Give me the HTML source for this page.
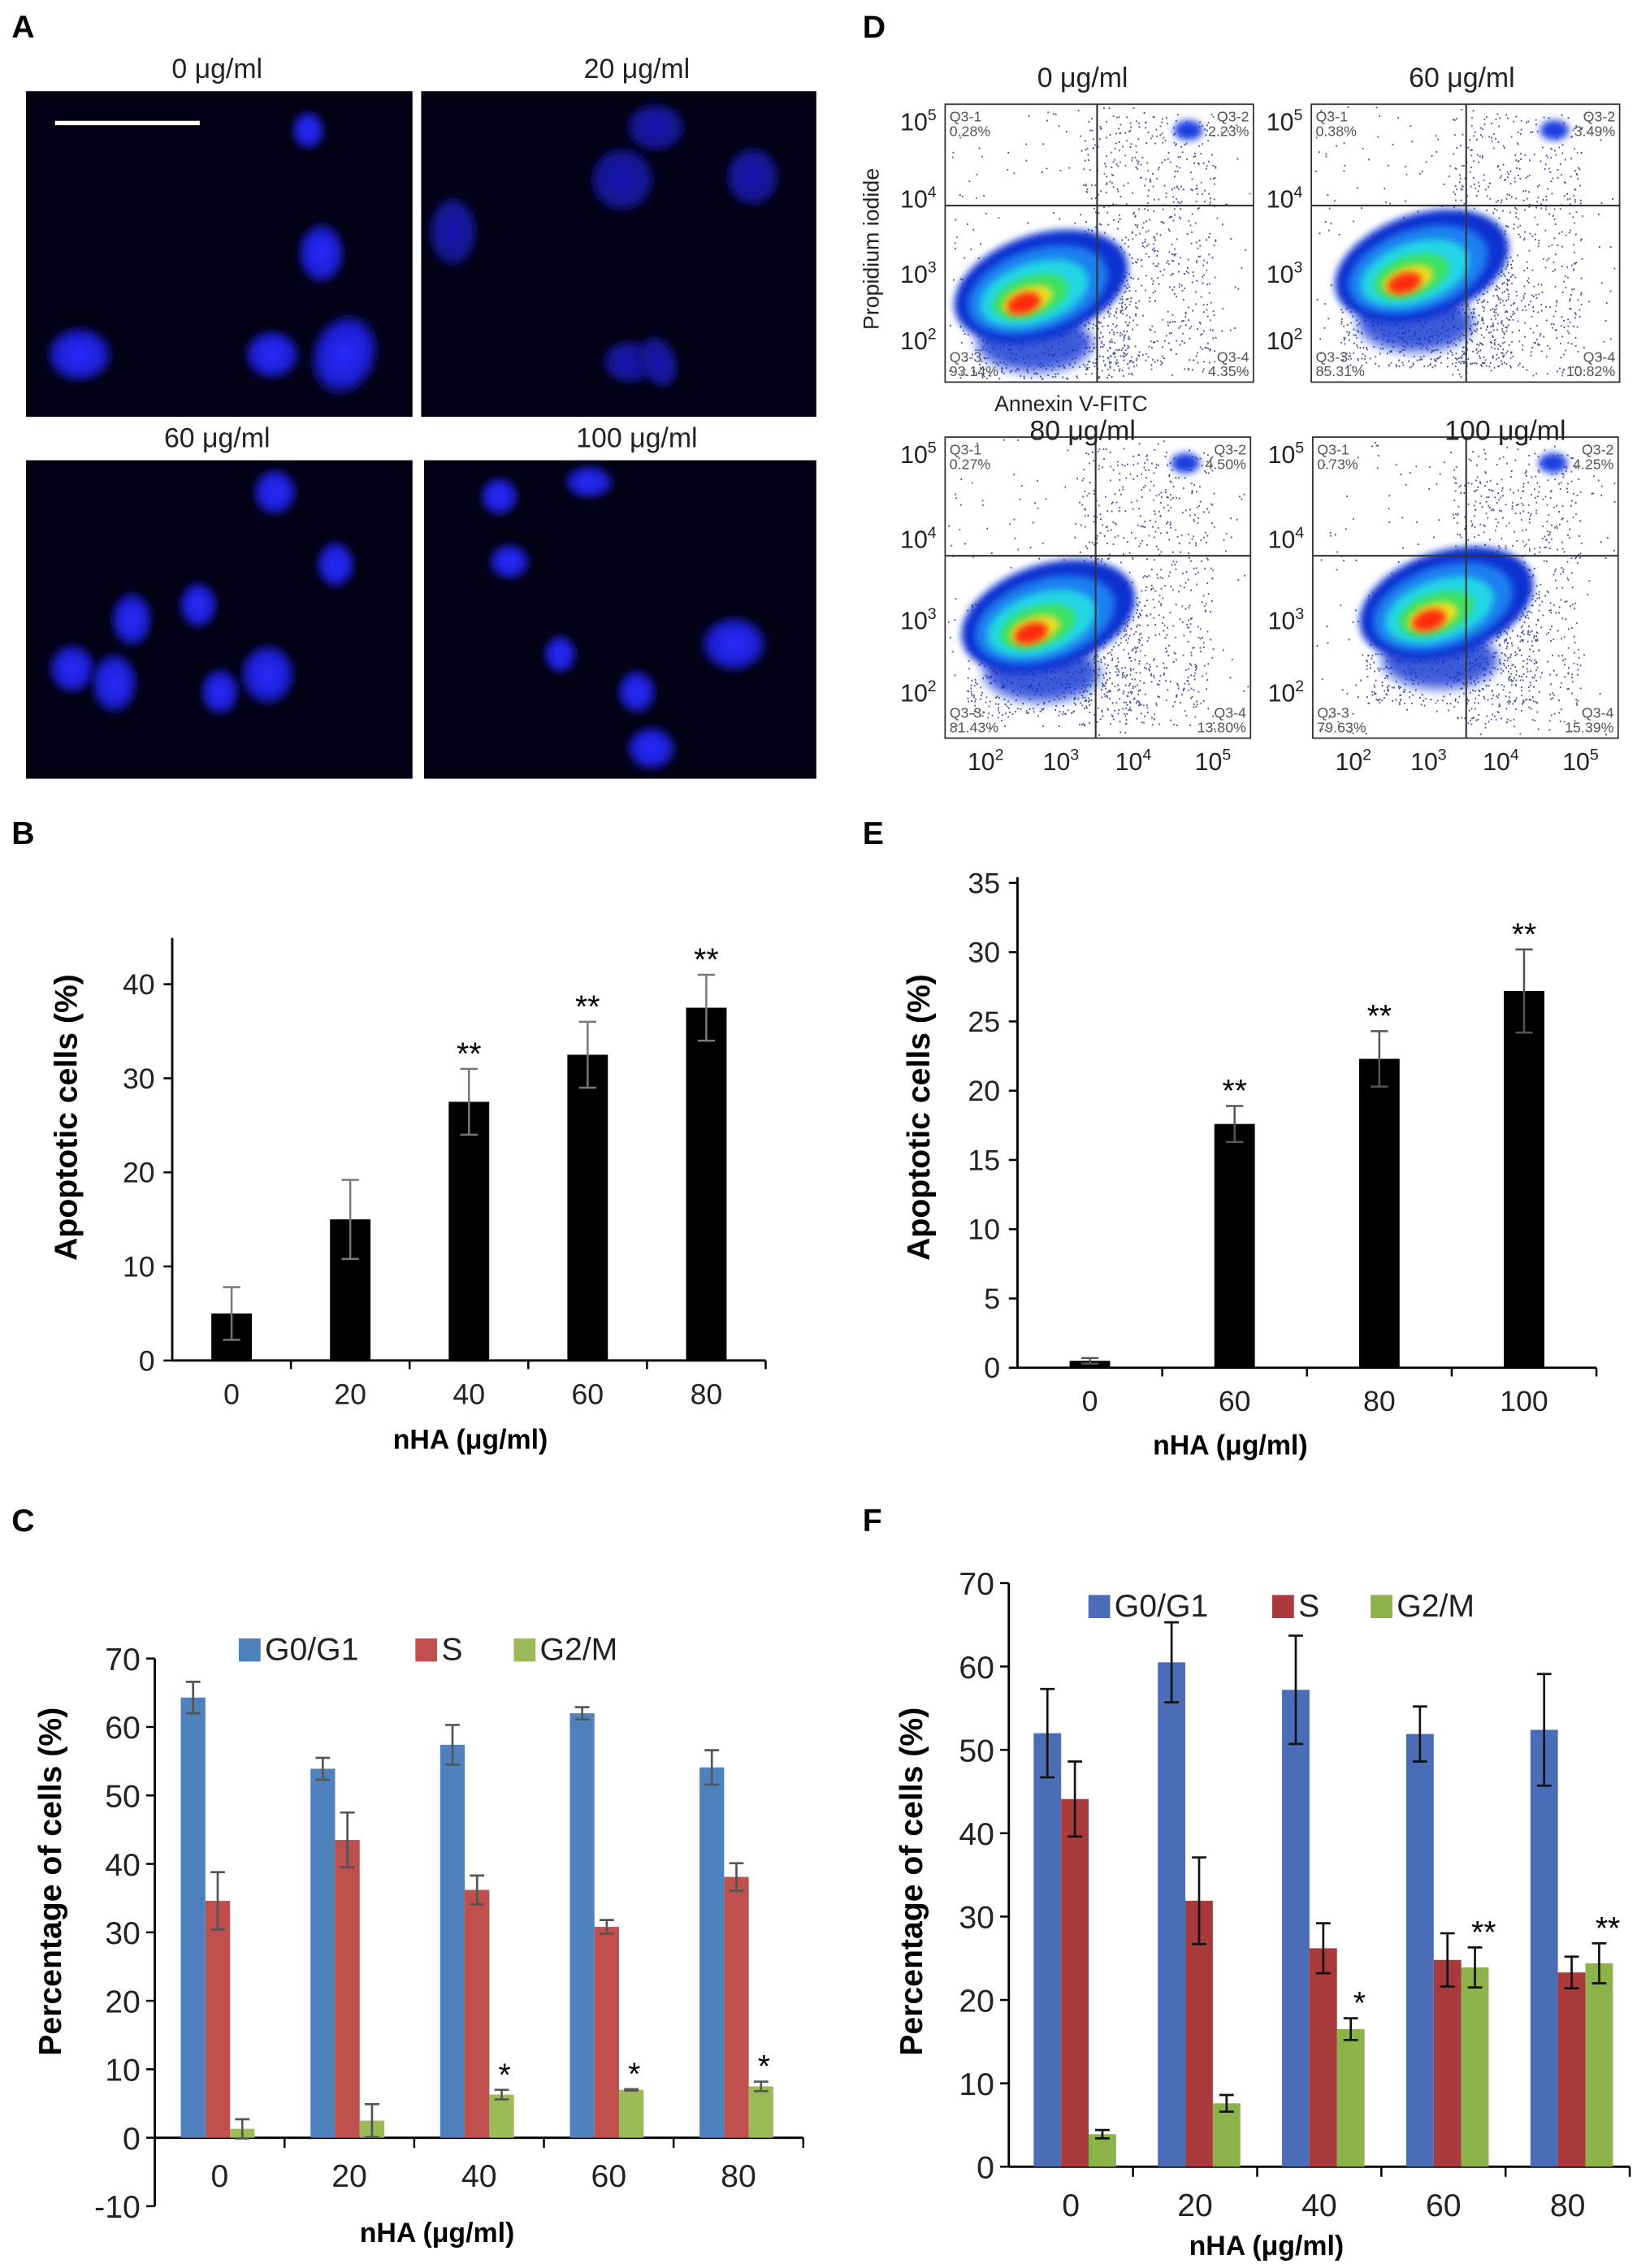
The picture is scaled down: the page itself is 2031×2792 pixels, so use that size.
<!DOCTYPE html>
<html><head><meta charset="utf-8"><style>
html,body{margin:0;padding:0;background:#fff;}
svg{display:block;}
text{font-family:"Liberation Sans",Arial,sans-serif;}
</style></head><body>
<svg id="fig" xmlns="http://www.w3.org/2000/svg" width="2031" height="2792" viewBox="0 0 1140 1567" preserveAspectRatio="none">
<defs>
<filter id="blur2" x="-50%" y="-50%" width="200%" height="200%"><feGaussianBlur stdDeviation="2.5"/></filter>
<filter id="blur4" x="-50%" y="-50%" width="200%" height="200%"><feGaussianBlur stdDeviation="4"/></filter>
<radialGradient id="nuc" cx="50%" cy="50%" r="50%"><stop offset="0" stop-color="#2a2cff"/><stop offset="0.7" stop-color="#1c1ed0"/><stop offset="1" stop-color="#0a0a60" stop-opacity="0.3"/></radialGradient>
<radialGradient id="nucdim" cx="50%" cy="50%" r="50%"><stop offset="0" stop-color="#1a1ab8"/><stop offset="0.75" stop-color="#12128a"/><stop offset="1" stop-color="#070740" stop-opacity="0.2"/></radialGradient>
</defs>
<rect x="0" y="0" width="1140" height="1567" fill="#fff"/>

<text x="8" y="26" font-size="22" font-weight="bold">A</text>
<text x="596" y="26" font-size="22" font-weight="bold">D</text>
<text x="8" y="583" font-size="22" font-weight="bold">B</text>
<text x="596" y="583" font-size="22" font-weight="bold">E</text>
<text x="8" y="1058" font-size="22" font-weight="bold">C</text>
<text x="596" y="1058" font-size="22" font-weight="bold">F</text>

<g id="panelA"></g>
<g id="panelD"></g>
<g id="panelB"></g>
<g id="panelE"></g>
<g id="panelC"></g>
<g id="panelF"></g>
</svg>
<script>
// ===== Chart B data =====
const bCategories = ["0","20","40","60","80"];
const bValues = [5.0, 15.0, 27.5, 32.5, 37.5];
const bErrors = [2.8, 4.2, 3.5, 3.5, 3.5];
const bStars = ["", "", "**", "**", "**"];
const bTicks = [0,10,20,30,40];
// ===== Chart E data =====
const eCategories = ["0","60","80","100"];
const eValues = [0.5, 17.6, 22.3, 27.2];
const eErrors = [0.2, 1.3, 2.0, 3.0];
const eStars = ["", "**", "**", "**"];
const eTicks = [0,5,10,15,20,25,30,35];
// ===== Chart C data =====
const cCategories = ["0","20","40","60","80"];
const cG1 = [64.3, 53.9, 57.4, 62.0, 54.1];
const cG1Err = [2.3, 1.6, 2.9, 0.9, 2.5];
const cS = [34.6, 43.5, 36.2, 30.8, 38.1];
const cSErr = [4.2, 4.0, 2.1, 1.0, 2.0];
const cG2 = [1.3, 2.5, 6.3, 7.0, 7.5];
const cG2Err = [1.4, 2.4, 0.7, 0.1, 0.7];
const cStars = ["", "", "*", "*", "*"];
const cTicks = [-10,0,10,20,30,40,50,60,70];
// ===== Chart F data =====
const fCategories = ["0","20","40","60","80"];
const fG1 = [52.0, 60.5, 57.2, 51.9, 52.4];
const fG1Err = [5.3, 4.8, 6.5, 3.3, 6.7];
const fS = [44.1, 31.9, 26.2, 24.8, 23.3];
const fSErr = [4.5, 5.2, 3.0, 3.2, 1.9];
const fG2 = [3.9, 7.6, 16.5, 23.9, 24.4];
const fG2Err = [0.5, 1.0, 1.3, 2.4, 2.4];
const fStars = ["", "", "*", "**", "**"];
const fTicks = [0,10,20,30,40,50,60,70];
const seriesNames = ["G0/G1","S","G2/M"];

const NS = "http://www.w3.org/2000/svg";
function mk(parent, tag, attrs, txt){
  const e = document.createElementNS(NS, tag);
  for (const k in attrs) e.setAttribute(k, attrs[k]);
  if (txt !== undefined) e.textContent = txt;
  parent.appendChild(e);
  return e;
}

function simpleBar(g, cfg, cats, vals, errs, stars, ticks){
  const y = v => cfg.y0 - (v - 0) * cfg.pxPerUnit;
  const band = (cfg.xEnd - cfg.xStart) / cats.length;
  const cx = i => cfg.xStart + band * (i + 0.5);
  let e = mk(g,'line',{x1:cfg.xStart,y1:cfg.yTop,x2:cfg.xStart,y2:cfg.y0,stroke:'#000','stroke-width':1.6});
   
  e = mk(g,'line',{x1:cfg.xStart,y1:cfg.y0,x2:cfg.xEnd,y2:cfg.y0,stroke:'#000','stroke-width':1.6});
   
  ticks.forEach(t=>{
    const ty = y(t);
    let l = mk(g,'line',{x1:cfg.xStart-6,y1:ty,x2:cfg.xStart,y2:ty,stroke:'#000','stroke-width':1.4});
     
    let tx = mk(g,'text',{x:cfg.xStart-12,y:ty+7,'font-size':20,'text-anchor':'end',fill:'#222'},String(t));
     
  });
  for (let i=1;i<=cats.length;i++){
    const tx = cfg.xStart + band*i;
    let l = mk(g,'line',{x1:tx,y1:cfg.y0,x2:tx,y2:cfg.y0+6,stroke:'#000','stroke-width':1.4});
     
  }
  cats.forEach((c,i)=>{
    const x = cx(i);
    let r = mk(g,'rect',{x:x-cfg.bw/2,y:y(vals[i]),width:cfg.bw,height:y(0)-y(vals[i]),fill:'#000'});
     
    const top = y(vals[i]+errs[i]), bot = y(vals[i]-errs[i]);
    let eb = mk(g,'path',{d:`M${x},${top}V${bot}M${x-6},${top}H${x+6}M${x-6},${bot}H${x+6}`,stroke:cfg.errColor,'stroke-width':1.4,fill:'none'});
     
    let lt = mk(g,'text',{x:x,y:cfg.y0+30,'font-size':20,'text-anchor':'middle',fill:'#222'},c);
     
    if (stars[i]){
      let s = mk(g,'text',{x:x,y:top-3,'font-size':22,'text-anchor':'middle',fill:'#000'},stars[i]);
       
    }
  });
  let yt = mk(g,'text',{x:0,y:0,'font-size':22,'font-weight':'bold','text-anchor':'middle',transform:`translate(${cfg.yTitleX},${cfg.yTitleY}) rotate(-90)`},'Apoptotic cells (%)');
   
  let xt = mk(g,'text',{x:cfg.xTitleX,y:cfg.xTitleY,'font-size':19,'font-weight':'bold','text-anchor':'middle'},'nHA (μg/ml)');
   
}

simpleBar(document.getElementById('panelB'),
  {xStart:119,xEnd:529,y0:940,yTop:648,pxPerUnit:6.5,bw:28,errColor:'#777',yTitleX:53,yTitleY:772,xTitleX:325,xTitleY:1001},
  bCategories,bValues,bErrors,bStars,bTicks);
simpleBar(document.getElementById('panelE'),
  {xStart:703,xEnd:1103,y0:945,yTop:606,pxPerUnit:9.571,bw:28,errColor:'#555',yTitleX:642,yTitleY:772,xTitleX:850,xTitleY:1005},
  eCategories,eValues,eErrors,eStars,eTicks);

function groupBar(g, cfg, cats, series, errsArr, stars, ticks){
  const y = v => cfg.y0 - v * cfg.pxPerUnit;
  const band = (cfg.xEnd - cfg.xStart) / cats.length;
  let e = mk(g,'line',{x1:cfg.xStart,y1:y(ticks[ticks.length-1]),x2:cfg.xStart,y2:y(ticks[0]),stroke:'#000','stroke-width':1.6});
   
  e = mk(g,'line',{x1:cfg.xStart,y1:cfg.y0,x2:cfg.xEnd,y2:cfg.y0,stroke:'#000','stroke-width':1.6});
   
  ticks.forEach(t=>{
    const ty = y(t);
    let l = mk(g,'line',{x1:cfg.xStart-6,y1:ty,x2:cfg.xStart,y2:ty,stroke:'#000','stroke-width':1.4});
     
    let tx = mk(g,'text',{x:cfg.xStart-10,y:ty+8,'font-size':22,'text-anchor':'end',fill:'#222'},String(t));
     
  });
  for (let i=1;i<=cats.length;i++){
    const tx = cfg.xStart + band*i;
    let l = mk(g,'line',{x1:tx,y1:cfg.y0,x2:tx,y2:cfg.y0+7,stroke:'#000','stroke-width':1.4});
     
  }
  cats.forEach((c,i)=>{
    const gx = cfg.xStart + band*i + band*0.2;
    series.forEach((vals,s)=>{
      const x = gx + s*cfg.bw;
      let r = mk(g,'rect',{x:x,y:Math.min(y(vals[i]),y(0)),width:cfg.bw,height:Math.abs(y(0)-y(vals[i])),fill:cfg.colors[s]});
       
      const m = x + cfg.bw/2;
      const top = y(vals[i]+errsArr[s][i]), bot = y(vals[i]-errsArr[s][i]);
      let eb = mk(g,'path',{d:`M${m},${top}V${bot}M${m-5},${top}H${m+5}M${m-5},${bot}H${m+5}`,stroke:cfg.errColor,'stroke-width':1.5,fill:'none'});
       
      if (s===2 && stars[i]){
        let st = mk(g,'text',{x:m+cfg.starDx,y:top-3,'font-size':22,'text-anchor':'middle'},stars[i]);
         
      }
    });
    let lt = mk(g,'text',{x:cfg.xStart + band*(i+0.5),y:cfg.y0+34,'font-size':22,'text-anchor':'middle',fill:'#222'},c);
     
  });
  const lx = cfg.legendX, ly = cfg.legendY;
  const offs = [0, cfg.legendGap1, cfg.legendGap2];
  seriesNames.forEach((n,s)=>{
    let sw = mk(g,'rect',{x:lx+offs[s],y:ly-15,width:15,height:16,fill:cfg.colors[s]});
     
    let t = mk(g,'text',{x:lx+offs[s]+18,y:ly,'font-size':22,fill:'#222'},n);
     
  });
  let yt = mk(g,'text',{x:0,y:0,'font-size':22,'font-weight':'bold','text-anchor':'middle',transform:`translate(${cfg.yTitleX},${cfg.yTitleY}) rotate(-90)`},'Percentage of cells (%)');
   
  let xt = mk(g,'text',{x:cfg.xTitleX,y:cfg.xTitleY,'font-size':19,'font-weight':'bold','text-anchor':'middle'},'nHA (μg/ml)');
   
}

groupBar(document.getElementById('panelC'),
  {xStart:107,xEnd:555,y0:1477,pxPerUnit:4.73,bw:17,colors:['#4f81bd','#c0504d','#9bbb59'],errColor:'#555',starDx:2,
   legendX:165,legendY:1147,legendGap1:122,legendGap2:190,yTitleX:42,yTitleY:1300,xTitleX:302,xTitleY:1549},
  cCategories,[cG1,cS,cG2],[cG1Err,cSErr,cG2Err],cStars,cTicks);
groupBar(document.getElementById('panelF'),
  {xStart:697,xEnd:1126,y0:1497,pxPerUnit:5.76,bw:19,colors:['#4a6db5','#a83a3b','#8cb34a'],errColor:'#111',starDx:6,
   legendX:752,legendY:1117,legendGap1:127,legendGap2:195,yTitleX:637,yTitleY:1300,xTitleX:875,xTitleY:1558},
  fCategories,[fG1,fS,fG2],[fG1Err,fSErr,fG2Err],fStars,fTicks);

(function(){
  const g = document.getElementById('panelA');
  const imgs = [
    {x:18,y:63,w:267,h:225,title:'0 μg/ml',tx:150,ty:54,nuc:[[213,90,12,14,0],[222,175,17,22,0],[188,245,20,18,0],[238,245,24,30,20],[55,245,24,20,0]],dim:false},
    {x:291,y:63,w:273,h:225,title:'20 μg/ml',tx:440,ty:54,nuc:[[453,88,22,18,0],[430,124,24,24,0],[520,122,20,22,0],[313,160,18,26,0],[435,250,20,16,0],[455,250,14,20,-20]],dim:true},
    {x:18,y:318,w:267,h:220,title:'60 μg/ml',tx:150,ty:309,nuc:[[190,340,16,17,0],[232,390,14,17,0],[137,418,14,17,0],[91,428,15,20,0],[50,462,17,18,0],[79,472,17,22,0],[185,466,20,22,0],[152,478,14,17,0]],dim:false},
    {x:293,y:318,w:271,h:220,title:'100 μg/ml',tx:440,ty:309,nuc:[[345,343,14,14,0],[407,333,18,12,0],[352,388,15,13,0],[387,452,12,14,0],[440,478,14,16,0],[507,445,24,20,0],[450,517,18,16,0]],dim:false}
  ];
  imgs.forEach((im,k)=>{
    let r = mk(g,'rect',{x:im.x,y:im.y,width:im.w,height:im.h,fill:'#020214'});
     
    im.nuc.forEach(n=>{
      let e = mk(g,'ellipse',{cx:n[0],cy:n[1],rx:n[2],ry:n[3],fill:im.dim?'url(#nucdim)':'url(#nuc)',filter:'url(#blur2)',transform:`rotate(${n[4]} ${n[0]} ${n[1]})`});
       
    });
    let t = mk(g,'text',{x:im.tx,y:im.ty,'font-size':19,'text-anchor':'middle',fill:'#222'},im.title);
     
  });
  let sb = mk(g,'line',{x1:38,y1:85,x2:138,y2:85,stroke:'#fff','stroke-width':3});
   
})();

(function(){
  const g = document.getElementById('panelD');
  let seed = 12345;
  const rnd = () => { seed = (seed*1103515245 + 12345) % 2147483648; return seed/2147483648; };
  const plots = [
    {x:653,y:72,w:213,h:192,vx:758,hy:142,bx:705,by:212,title:'0 μg/ml',tx:748,ty:60,p:['0.28%','2.23%','93.14%','4.35%']},
    {x:906,y:72,w:213,h:192,vx:1013,hy:142,bx:968,by:198,title:'60 μg/ml',tx:1010,ty:60,p:['0.38%','3.49%','85.31%','10.82%']},
    {x:653,y:302,w:211,h:208,vx:757,hy:384,bx:710,by:440,title:'80 μg/ml',tx:748,ty:304,p:['0.27%','4.50%','81.43%','13.80%']},
    {x:907,y:302,w:211,h:208,vx:1013,hy:384,bx:985,by:431,title:'100 μg/ml',tx:1040,ty:304,p:['0.73%','4.25%','79.63%','15.39%']}
  ];
  plots.forEach((p,k)=>{
    let bg = mk(g,'rect',{x:p.x,y:p.y,width:p.w,height:p.h,fill:'#fff',stroke:'#333','stroke-width':1});
     
    let d = '';
    for (let i=0;i<1500;i++){
      let px, py;
      const r = rnd();
      if (r < 0.45){ px = p.bx + (rnd()-0.35)*120; py = p.by + (rnd()-0.3)*80; }
      else if (r < 0.85){ px = p.vx - 10 + rnd()*(p.x+p.w-p.vx)*0.85; py = p.y + 8 + rnd()*(p.h-16); }
      else { px = p.x + rnd()*p.w; py = p.y + rnd()*p.h; }
      if (px<p.x+2||px>p.x+p.w-2||py<p.y+2||py>p.y+p.h-2) continue;
      d += `M${px.toFixed(1)},${py.toFixed(1)}h1`;
    }
    let dots = mk(g,'path',{d:d,stroke:'#1a2a80','stroke-width':1.1,fill:'none',opacity:0.8});
     
    let tail = mk(g,'ellipse',{cx:p.bx+10,cy:p.by+25,rx:40,ry:20,fill:'#1030d0',filter:'url(#blur4)',opacity:0.8});
     
    const layers = [[62,36,'#1030d0'],[50,28,'#1d7ff0'],[39,21,'#22d6e6'],[27,14,'#3be060'],[18,9,'#f0e020'],[12,7,'#ff2a10']];
    layers.forEach((L,j)=>{
      let el = mk(g,'ellipse',{cx:p.bx+(6-j)*3,cy:p.by-(6-j)*1.5,rx:L[0],ry:L[1],fill:L[2],filter:'url(#blur2)',transform:`rotate(-18 ${p.bx} ${p.by})`});
       
    });
    let q2 = mk(g,'ellipse',{cx:p.x+p.w-45,cy:p.y+18,rx:10,ry:7,fill:'#1a40e0',filter:'url(#blur2)'});
     
    let gl = mk(g,'path',{d:`M${p.vx},${p.y}V${p.y+p.h}M${p.x},${p.hy}H${p.x+p.w}`,stroke:'#333','stroke-width':1.2});
     
    const ql = [['Q3-1',p.p[0],p.x+3,p.y+12,'start'],['Q3-2',p.p[1],p.x+p.w-3,p.y+12,'end'],['Q3-3',p.p[2],p.x+3,p.y+p.h-14,'start'],['Q3-4',p.p[3],p.x+p.w-3,p.y+p.h-14,'end']];
    ql.forEach(q=>{
      let t1 = mk(g,'text',{x:q[2],y:q[3],'font-size':10,'text-anchor':q[4],fill:'#555'},q[0]);
       
      let t2 = mk(g,'text',{x:q[2],y:q[3]+10,'font-size':10,'text-anchor':q[4],fill:'#555'},q[1]);
       
    });
    const ys = [p.y+10, p.y+p.h*0.33, p.y+p.h*0.6, p.y+p.h*0.84];
    ['5','4','3','2'].forEach((ex,j)=>{
      let t = mk(g,'text',{x:p.x-6,y:ys[j]+8,'font-size':17,'text-anchor':'end',fill:'#222'});
       
      t.appendChild(document.createTextNode('10'));
      const s = document.createElementNS(NS,'tspan'); s.setAttribute('dy','-7'); s.setAttribute('font-size','11'); s.textContent = ex; t.appendChild(s);
    });
    let tt = mk(g,'text',{x:p.tx,y:p.ty,'font-size':19,'text-anchor':'middle',fill:'#222'},p.title);
     
    if (k>=2){
      const xs = [p.x+28, p.x+80, p.x+130, p.x+185];
      ['2','3','4','5'].forEach((ex,j)=>{
        let t = mk(g,'text',{x:xs[j],y:p.y+p.h+22,'font-size':17,'text-anchor':'middle',fill:'#222'});
         
        t.appendChild(document.createTextNode('10'));
        const s = document.createElementNS(NS,'tspan'); s.setAttribute('dy','-7'); s.setAttribute('font-size','11'); s.textContent = ex; t.appendChild(s);
      });
    }
  });
  let yl = mk(g,'text',{x:0,y:0,'font-size':15,'text-anchor':'middle',fill:'#222',transform:'translate(607,172) rotate(-90)'},'Propidium iodide');
   
  let xl = mk(g,'text',{x:740,y:284,'font-size':15,'text-anchor':'middle',fill:'#222'},'Annexin V-FITC');
   
})();
</script>
</body></html>
